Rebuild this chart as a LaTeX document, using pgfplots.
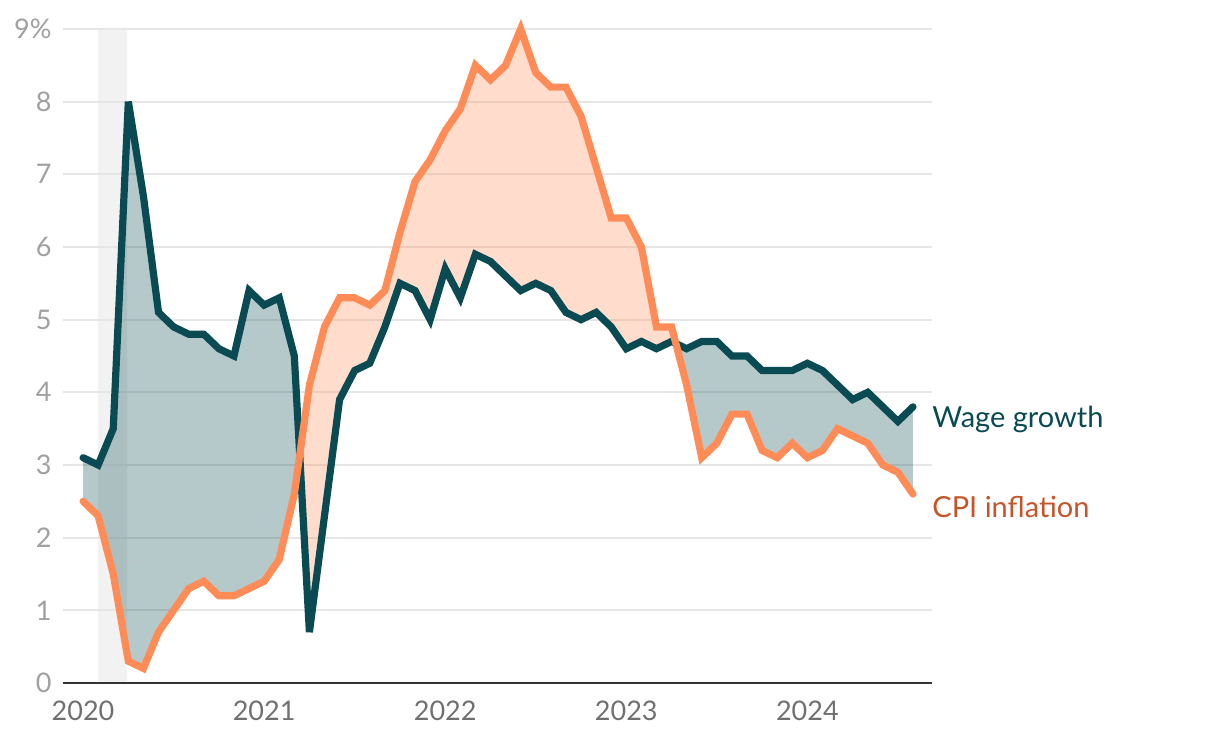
\documentclass[border=0pt]{standalone}
\usepackage{fontspec}
\setmainfont{Lato}
\usepackage{pgfplots}
\pgfplotsset{compat=1.18}
\usepgfplotslibrary{fillbetween}
\definecolor{wagec}{HTML}{0A4B53}
\definecolor{cpic}{HTML}{FF8C57}
\definecolor{cpitext}{HTML}{C4542A}
\definecolor{gridc}{HTML}{E6E6E6}
\definecolor{axisc}{HTML}{333333}
\definecolor{ytc}{HTML}{A0A0A0}
\definecolor{xtc}{HTML}{707070}
\definecolor{bandc}{HTML}{F2F2F2}
\begin{document}
\begin{tikzpicture}
\begin{axis}[
  set layers,
  scale only axis,
  width=434.5pt, height=327pt,
  xmin=-1.33, xmax=56.26, ymin=0, ymax=9,
  axis lines*=left,
  y axis line style={draw=none},
  x axis line style={draw=axisc, line width=1.2pt},
  major tick length=0,
  xtick={0,12,24,36,48}, xticklabels={2020,2021,2022,2023,2024},
  ytick={0,1,2,3,4,5,6,7,8,9}, yticklabels={0,1,2,3,4,5,6,7,8,9\%},
  ymajorgrids, grid style={gridc, line width=1pt},
  tick label style={font=\fontsize{13.5}{15}\selectfont},
  xticklabel style={text=xtc, yshift=-5.5pt},
  yticklabel style={text=ytc, xshift=-2.2pt},
  clip=false,
]
\coordinate (bl) at (rel axis cs:0,0);
\coordinate (tr) at (rel axis cs:1,1);
\addplot[draw=none, fill=bandc, on layer=axis background] coordinates {(0.99,0) (0.99,9) (2.92,9) (2.92,0)} \closedcycle;

\addplot[name path=wage, draw=wagec, line width=3.6pt, line cap=round, miter limit=4] coordinates {
(0,3.1)(1,3.0)(2,3.5)(3,8.0)(4,6.7)(5,5.1)(6,4.9)(7,4.8)(8,4.8)(9,4.6)(10,4.5)(11,5.4)
(12,5.2)(13,5.3)(14,4.5)(15,0.7)(16,2.3)(17,3.9)(18,4.3)(19,4.4)(20,4.9)(21,5.5)(22,5.4)(23,5.0)
(24,5.7)(25,5.3)(26,5.9)(27,5.8)(28,5.6)(29,5.4)(30,5.5)(31,5.4)(32,5.1)(33,5.0)(34,5.1)(35,4.9)
(36,4.6)(37,4.7)(38,4.6)(39,4.7)(40,4.6)(41,4.7)(42,4.7)(43,4.5)(44,4.5)(45,4.3)(46,4.3)(47,4.3)
(48,4.4)(49,4.3)(50,4.1)(51,3.9)(52,4.0)(53,3.8)(54,3.6)(55,3.8)};

\addplot[name path=cpi, draw=cpic, line width=3.6pt, line cap=round, miter limit=4] coordinates {
(0,2.5)(1,2.3)(2,1.5)(3,0.3)(4,0.2)(5,0.7)(6,1.0)(7,1.3)(8,1.4)(9,1.2)(10,1.2)(11,1.3)
(12,1.4)(13,1.7)(14,2.6)(15,4.1)(16,4.9)(17,5.3)(18,5.3)(19,5.2)(20,5.4)(21,6.2)(22,6.9)(23,7.2)
(24,7.6)(25,7.9)(26,8.5)(27,8.3)(28,8.5)(29,9.0)(30,8.4)(31,8.2)(32,8.2)(33,7.8)(34,7.1)(35,6.4)
(36,6.4)(37,6.0)(38,4.9)(39,4.9)(40,4.1)(41,3.1)(42,3.3)(43,3.7)(44,3.7)(45,3.2)(46,3.1)(47,3.3)
(48,3.1)(49,3.2)(50,3.5)(51,3.4)(52,3.3)(53,3.0)(54,2.9)(55,2.6)};

\addplot[on layer=pre main, draw=none, fill=none]
  fill between[of=wage and cpi, split,
  every segment no 0/.style={fill=wagec, fill opacity=0.3},
  every segment no 1/.style={fill=cpic, fill opacity=0.3},
  every segment no 2/.style={fill=wagec, fill opacity=0.3}];

\node[anchor=base west, inner sep=0pt, text=wagec, font=\fontsize{14.5}{16}\selectfont] at (axis cs:56.26,3.51) {Wage growth};
\node[anchor=base west, inner sep=0pt, text=cpitext, font=\fontsize{14.5}{16}\selectfont] at (axis cs:56.26,2.28) {CPI inflation};
\end{axis}
\pgfresetboundingbox
\path[use as bounding box] ([shift={(-31.5pt,-30.5pt)}]bl) rectangle ([shift={(144pt,14.5pt)}]tr);
\end{tikzpicture}
\end{document}
